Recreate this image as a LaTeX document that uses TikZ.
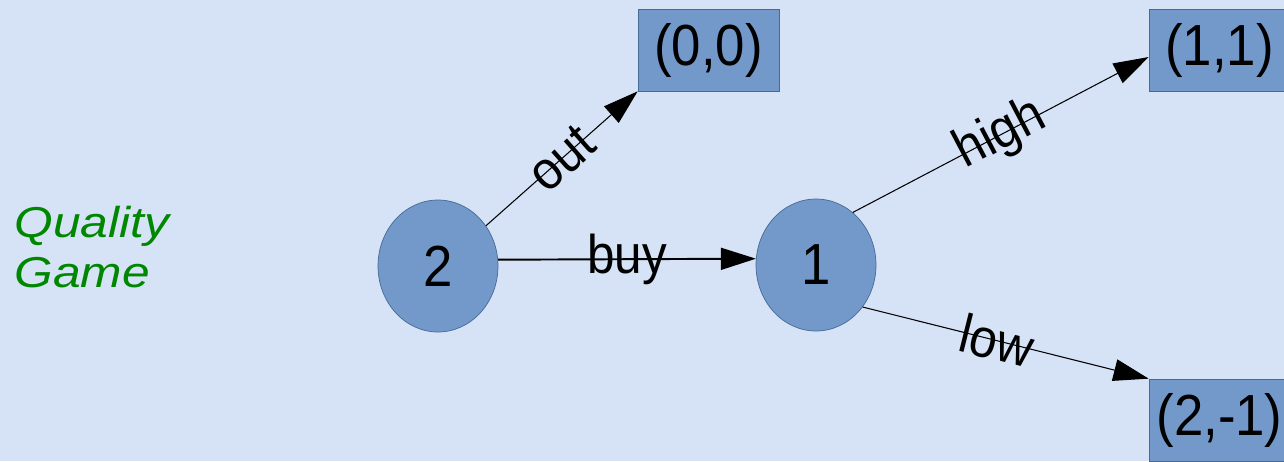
\documentclass[tikz,border=0pt]{standalone}
\usepackage{fontspec}
\setmainfont{Liberation Sans}
\newfontfamily\boxfont[FakeStretch=0.91]{Liberation Sans}
\newfontfamily\titlefont[FakeStretch=1.15]{Liberation Sans}
\usetikzlibrary{shapes.geometric,arrows.meta}

\definecolor{bgblue}{RGB}{214,227,246}
\definecolor{nodeblue}{RGB}{115,153,202}
\definecolor{edgeblue}{RGB}{70,105,150}
\definecolor{titlegreen}{RGB}{0,135,0}

\begin{document}
\begin{tikzpicture}[x=0.02cm,y=0.02cm,
		player/.style={ellipse,draw=edgeblue,fill=nodeblue,minimum width=2.4cm,minimum height=2.64cm,font=\boxfont\fontsize{33}{36}\selectfont},
		payoff/.style={rectangle,draw=edgeblue,fill=nodeblue,minimum width=2.82cm,minimum height=1.64cm,font=\boxfont\fontsize{33}{36}\selectfont},
		move/.style={-{Triangle[length=20pt,width=12.5pt]},line width=0.6pt},
		movelabel/.style={sloped,midway,font=\boxfont\fontsize{31}{36}\selectfont}]
		\tikzstyle{every node}+=[inner sep=0pt]
		\useasboundingbox (0,0) rectangle (1284,-461);
		\fill [bgblue] (0,0) rectangle (1284,-461);
		\clip (0,0) rectangle (1284,-461);
		% title
		\node [anchor=north west,align=left,text=titlegreen,font=\titlefont\itshape\fontsize{24.6}{28.5}\selectfont] (title) at (14,-206) {Quality\\Game};
		% players
		\node [player] (n2) at (438,-266) {2};
		\node [player] (n1) at (816,-265) {1};
		% payoffs
		\node [payoff] (b00) at (708.5,-50) {(0,0)};
		\node [payoff] (b11) at (1219.5,-50) {(1,1)};
		\node [payoff] (b21) at (1219.5,-420) {(2,-1)};
		% moves
		\draw [move] (n2.40) -- (b00.south west) node [movelabel] {out};
		\draw [move,line width=1.1pt] (n2.6) -- (n1.174) node [movelabel] {buy};
		\draw [move] (n1.55) -- ([yshift=-0.14cm]b11.west) node [movelabel] {high};
		\draw [move] (n1.-42) -- (b21.north west) node [movelabel,pos=0.47] {low};
	\end{tikzpicture}
\end{document}
